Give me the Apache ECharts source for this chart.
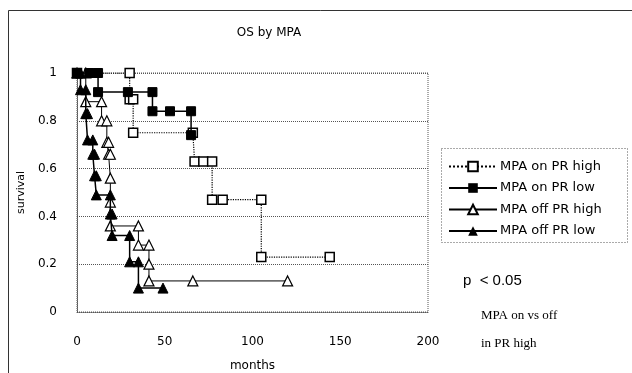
<!DOCTYPE html>
<html>
<head>
<meta charset="utf-8">
<script src="https://cdn.jsdelivr.net/npm/echarts@6/dist/echarts.min.js"></script>
<style>
  html, body { margin: 0; padding: 0; background: #fff; }
  #chart { width: 632px; height: 373px; }
</style>
</head>
<body>
<div id="chart"></div>
<script>
// axis ticks
const xTicks = [0, 50, 100, 150, 200];
const yTicks = [0, 0.2, 0.4, 0.6, 0.8, 1];

const seriesNames = ["MPA on PR high", "MPA on PR low", "MPA off PR high", "MPA off PR low"];

// MPA on PR high (open squares)
const onHighMonths = [0, 30, 30, 32, 32, 66, 67, 72, 77, 77, 83, 105, 105, 144];
const onHighSurv = [1, 1, 0.89, 0.89, 0.75, 0.75, 0.63, 0.63, 0.63, 0.47, 0.47, 0.47, 0.23, 0.23];

// MPA on PR low (filled squares)
const onLowMonths = [0, 7, 12, 12, 29, 43, 43, 53, 65, 65];
const onLowSurv = [1, 1, 1, 0.92, 0.92, 0.92, 0.84, 0.84, 0.84, 0.74];

// MPA off PR high (open triangles)
const offHighMonths = [0, 5, 5, 14, 14, 17, 17, 18, 18, 19, 19, 19, 19, 35, 35, 41, 41, 41, 66, 120];
const offHighSurv = [1, 1, 0.88, 0.88, 0.8, 0.8, 0.71, 0.71, 0.66, 0.66, 0.56, 0.46, 0.36, 0.36, 0.28, 0.28, 0.2, 0.13, 0.13, 0.13];

// MPA off PR low (filled triangles)
const offLowMonths = [0, 2, 2, 5, 5, 6, 6, 9, 9, 10, 10, 11, 11, 19, 19, 20, 20, 30, 30, 35, 35, 49];
const offLowSurv = [1, 1, 0.93, 0.93, 0.83, 0.83, 0.72, 0.72, 0.66, 0.66, 0.57, 0.57, 0.49, 0.49, 0.41, 0.41, 0.32, 0.32, 0.21, 0.21, 0.1, 0.1];

const zip = (a, b) => a.map((v, i) => [v, b[i]]);

const chart = echarts.init(document.getElementById("chart"));

const labelFont = { fontFamily: "DejaVu Sans", fontSize: 12, color: "#000" };

const option = {
  animation: false,
  backgroundColor: "#fff",
  title: {
    text: "OS by MPA",
    left: 264,
    textAlign: "center",
    top: 22,
    textStyle: { fontFamily: "DejaVu Sans", fontSize: 12, fontWeight: "normal", color: "#000" },
  },
  grid: {
    left: 77,
    top: 73,
    right: 204,
    bottom: 61,
    outerBoundsMode: "none",
    show: true,
    borderColor: "#555",
    borderWidth: 1,
    borderType: "dotted",
  },
  legend: {
    orient: "vertical",
    left: 443,
    top: 155,
    itemWidth: 48,
    itemHeight: 12,
    itemGap: 8.5,
    textStyle: { fontFamily: "DejaVu Sans", fontSize: 13, color: "#000", padding: [0, 0, 0, -2] },
    data: seriesNames,
  },
  xAxis: {
    type: "value",
    min: xTicks[0],
    max: xTicks[xTicks.length - 1],
    interval: 50,
    name: "months",
    nameLocation: "middle",
    nameGap: 48,
    nameMoveOverlap: false,
    nameTextStyle: labelFont,
    axisLine: { lineStyle: { color: "#555", type: "dotted" } },
    axisTick: { show: false },
    axisLabel: { ...labelFont, margin: 24 },
    splitLine: { show: false },
  },
  yAxis: {
    type: "value",
    min: yTicks[0],
    max: yTicks[yTicks.length - 1],
    interval: 0.2,
    name: "survival",
    nameLocation: "middle",
    nameGap: 50,
    nameMoveOverlap: false,
    nameTextStyle: { fontFamily: "DejaVu Sans", fontSize: 11, color: "#000" },
    axisLine: { show: true, lineStyle: { color: "#555", type: "dotted" } },
    axisTick: { show: false },
    axisLabel: { ...labelFont, margin: 20 },
    splitLine: { lineStyle: { color: "#555", type: "dotted" } },
  },
  graphic: [
    {
      type: "rect",
      shape: { x: 8.5, y: 10.5, width: 700, height: 400 },
      style: { fill: "none", stroke: "#333", lineWidth: 1 },
      silent: true,
    },
    {
      type: "rect",
      shape: { x: 441.5, y: 148.5, width: 186, height: 94 },
      style: { fill: "none", stroke: "#555", lineWidth: 1, lineDash: [1, 2] },
      silent: true,
    },
    {
      type: "text",
      left: 463,
      top: 273,
      style: { text: "p  < 0.05", font: "15px Liberation Sans", fill: "#000" },
    },
    {
      type: "text",
      left: 481,
      top: 309,
      style: { text: "MPA on vs off", font: "13px Liberation Serif", fill: "#000" },
    },
    {
      type: "text",
      left: 481,
      top: 337,
      style: { text: "in PR high", font: "13px Liberation Serif", fill: "#000" },
    },
  ],
  series: [
    {
      name: seriesNames[0],
      type: "line",
      data: zip(onHighMonths, onHighSurv),
      symbol: "rect",
      symbolSize: 9,
      showAllSymbol: true,
      lineStyle: { color: "#000", width: 1.2, type: "dotted" },
      itemStyle: { color: "#fff", borderColor: "#000", borderWidth: 1.5 },
      z: 2,
    },
    {
      name: seriesNames[1],
      type: "line",
      data: zip(onLowMonths, onLowSurv),
      symbol: "rect",
      symbolSize: 9,
      showAllSymbol: true,
      lineStyle: { color: "#000", width: 1.5 },
      itemStyle: { color: "#000", borderColor: "#000" },
      z: 3,
    },
    {
      name: seriesNames[2],
      type: "line",
      data: zip(offHighMonths, offHighSurv),
      symbol: "triangle",
      symbolSize: 10,
      showAllSymbol: true,
      lineStyle: { color: "#000", width: 1 },
      itemStyle: { color: "#fff", borderColor: "#000", borderWidth: 1.2 },
      z: 2,
    },
    {
      name: seriesNames[3],
      type: "line",
      data: zip(offLowMonths, offLowSurv),
      symbol: "triangle",
      symbolSize: 10,
      showAllSymbol: true,
      lineStyle: { color: "#000", width: 1.5 },
      itemStyle: { color: "#000", borderColor: "#000" },
      z: 4,
    },
  ],
};

chart.setOption(option);
</script>
</body>
</html>
